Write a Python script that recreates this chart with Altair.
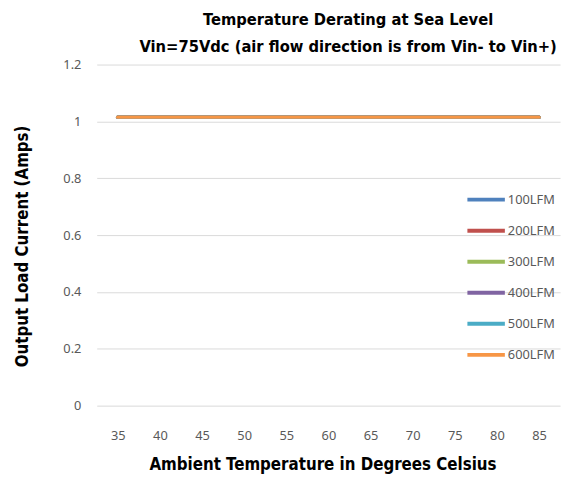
import altair as alt
import pandas as pd

temps = [35, 40, 45, 50, 55, 60, 65, 70, 75, 80, 85]
series_names = ["100LFM", "200LFM", "300LFM", "400LFM", "500LFM", "600LFM"]
lfm100 = [1.015, 1.015, 1.015, 1.015, 1.015, 1.015, 1.015, 1.015, 1.015, 1.015, 1.015]
lfm200 = [1.015, 1.015, 1.015, 1.015, 1.015, 1.015, 1.015, 1.015, 1.015, 1.015, 1.015]
lfm300 = [1.015, 1.015, 1.015, 1.015, 1.015, 1.015, 1.015, 1.015, 1.015, 1.015, 1.015]
lfm400 = [1.015, 1.015, 1.015, 1.015, 1.015, 1.015, 1.015, 1.015, 1.015, 1.015, 1.015]
lfm500 = [1.015, 1.015, 1.015, 1.015, 1.015, 1.015, 1.015, 1.015, 1.015, 1.015, 1.015]
lfm600 = [1.015, 1.015, 1.015, 1.015, 1.015, 1.015, 1.015, 1.015, 1.015, 1.015, 1.015]
colors = ["#4F81BD", "#C0504D", "#9BBB59", "#8064A2", "#4BACC6", "#F79646"]
y_ticks = [0, 0.2, 0.4, 0.6, 0.8, 1.0, 1.2]

values = [lfm100, lfm200, lfm300, lfm400, lfm500, lfm600]
rows = []
for i, (name, vals) in enumerate(zip(series_names, values)):
    for t, v in zip(temps, vals):
        rows.append({"temp": t, "current": v, "series": name, "order": i})
df = pd.DataFrame(rows)

title_font = "DejaVu Sans Condensed, DejaVu Sans, sans-serif"
label_font = "Noto Sans"

chart = alt.Chart(df).mark_line(strokeWidth=3.5, strokeCap="round").encode(
    x=alt.X("temp:Q",
            scale=alt.Scale(domain=[32.5, 87.5], nice=False, zero=False),
            axis=alt.Axis(values=temps, title="Ambient Temperature in Degrees Celsius",
                          grid=False, ticks=False, domain=False,
                          labelPadding=24, labelFont=label_font, labelFontSize=13,
                          labelColor="#595959",
                          titleFont=title_font, titleFontSize=17, titleFontWeight="bold",
                          titleColor="#000000", titleX=229, titleY=60, titleBaseline="middle")),
    y=alt.Y("current:Q",
            scale=alt.Scale(domain=[0, 1.2], nice=False),
            axis=alt.Axis(values=y_ticks, format="~g", title="Output Load Current (Amps)",
                          grid=True, gridColor="#D9D9D9", gridWidth=1,
                          ticks=False, domain=False,
                          labelPadding=16, labelFont=label_font, labelFontSize=13,
                          labelColor="#595959",
                          titleFont=title_font, titleFontSize=17, titleFontWeight="bold",
                          titleColor="#000000", titleX=-75, titleY=184,
                          titleBaseline="middle")),
    color=alt.Color("series:N",
                    scale=alt.Scale(domain=series_names, range=colors),
                    legend=alt.Legend(title=None, orient="none", legendX=374, legendY=116,
                                      symbolType="stroke", symbolSize=1444,
                                      symbolStrokeWidth=4, labelFont=label_font,
                                      labelFontSize=13, labelColor="#595959",
                                      labelOffset=1, rowPadding=2.5)),
    order=alt.Order("order:Q"),
    detail="series:N",
).properties(
    width=470,
    height=346,
    padding={"left": 90, "top": 54, "right": 5, "bottom": 68},
    autosize=alt.AutoSizeParams(type="none"),
    title=alt.TitleParams(
        text=["Temperature Derating at Sea Level",
              "Vin=75Vdc (air flow direction is from Vin- to Vin+)"],
        font=title_font, fontSize=16.6, fontWeight="bold", color="#000000",
        lineHeight=28, anchor="middle", offset=3, dx=20),
).configure_view(stroke=None)

chart.save("out.html", embed_options={"renderer": "svg", "actions": False})
